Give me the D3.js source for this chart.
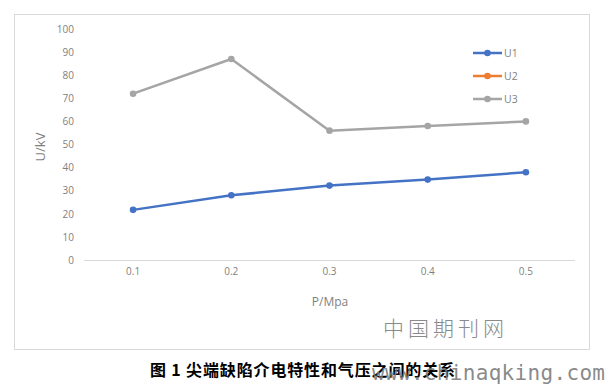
<!DOCTYPE html>
<html><head><meta charset="utf-8">
<script src="https://cdn.jsdelivr.net/npm/d3@7"></script>
<style>body{margin:0;background:#fff}svg{display:block}</style>
</head><body><svg id="c" width="610" height="386"></svg>
<script>
const categories = ["0.1","0.2","0.3","0.4","0.5"];
const U1 = [21.7, 28.0, 32.2, 34.8, 38.0];
const U2 = [null, null, null, null, null];
const U3 = [72, 87, 56, 58, 60];
const yTicks = [0,10,20,30,40,50,60,70,80,90,100];
const seriesNames = ["U1","U2","U3"];
const seriesColors = ["#4472C4","#ED7D31","#A5A5A5"];
const series = [U1, U2, U3];

const svg = d3.select("#c");
svg.append("rect").attr("x",14.5).attr("y",14.5).attr("width",575).attr("height",335)
  .attr("fill","#fff").attr("stroke","#d9d9d9").attr("stroke-width",1);

const x = d3.scaleBand().domain(categories).range([84,575]);
const y = d3.scaleLinear().domain([0,100]).range([260,29]);
const font = "'Open Sans', 'Noto Sans', 'Liberation Sans', sans-serif";
const txt = "#7f7f7f";

svg.append("line").attr("x1",84).attr("x2",575).attr("y1",y(0)+0.5).attr("y2",y(0)+0.5)
  .attr("stroke","#d9d9d9").attr("stroke-width",1);

const ya = svg.append("g").attr("transform","translate(74,0)")
  .call(d3.axisLeft(y).tickValues(yTicks).tickSize(0).tickPadding(0));
ya.select(".domain").remove();
ya.selectAll("text").attr("fill",txt).style("font-family",font).style("font-size","10px");

const xa = svg.append("g").attr("transform",`translate(0,${y(0)+8})`)
  .call(d3.axisBottom(x).tickSize(0).tickPadding(0));
xa.select(".domain").remove();
xa.selectAll("text").attr("fill",txt).style("font-family",font).style("font-size","10px");

svg.append("text").attr("x",330).attr("y",306).attr("text-anchor","middle")
  .attr("fill",txt).style("font-family",font).style("font-size","12px").text("P/Mpa");
svg.append("text").attr("transform","translate(45,147) rotate(-90)").attr("text-anchor","middle")
  .attr("fill",txt).style("font-family",font).style("font-size","13px").text("U/kV");

const line = d3.line().defined(d=>d!=null)
  .x((d,i)=>x(categories[i])+x.bandwidth()/2).y(d=>y(d));
series.forEach((s,k)=>{
  const g = svg.append("g");
  g.append("path").datum(s).attr("d",line).attr("fill","none")
    .attr("stroke",seriesColors[k]).attr("stroke-width",2.5).attr("stroke-linejoin","round");
  g.selectAll("circle").data(s.map((d,i)=>({d,i})).filter(o=>o.d!=null)).join("circle")
    .attr("cx",o=>x(categories[o.i])+x.bandwidth()/2).attr("cy",o=>y(o.d)).attr("r",3.3)
    .attr("fill",seriesColors[k]);
});

seriesNames.forEach((n,k)=>{
  const ly = 53 + k*23;
  svg.append("line").attr("x1",473).attr("x2",502).attr("y1",ly).attr("y2",ly)
    .attr("stroke",seriesColors[k]).attr("stroke-width",2.5);
  svg.append("circle").attr("cx",487.5).attr("cy",ly).attr("r",3.3).attr("fill",seriesColors[k]);
  svg.append("text").attr("x",504).attr("y",ly+4).attr("fill",txt)
    .style("font-family",font).style("font-size","10.5px").text(n);
});

svg.append("text").attr("x",383).attr("y",336).attr("fill","#8a8a8a")
  .style("font-family","'Noto Sans CJK SC'").style("font-weight","300").style("font-size","21px")
  .style("letter-spacing","4px").text("中国期刊网");

svg.append("text").attr("x",150).attr("y",376).attr("fill","#000")
  .style("font-family","'Noto Sans CJK SC'").style("font-weight","bold").style("font-size","16px")
  .attr("textLength",305).attr("lengthAdjust","spacing")
  .text("图 1 尖端缺陷介电特性和气压之间的关系");
svg.append("text").attr("x",372).attr("y",380).attr("fill","#7a7a7a").attr("fill-opacity",0.9)
  .style("font-family","'DejaVu Sans Mono', 'Liberation Mono', monospace").style("font-size","21px")
  .attr("textLength",233).text("www.chinaqking.com");
</script></body></html>
